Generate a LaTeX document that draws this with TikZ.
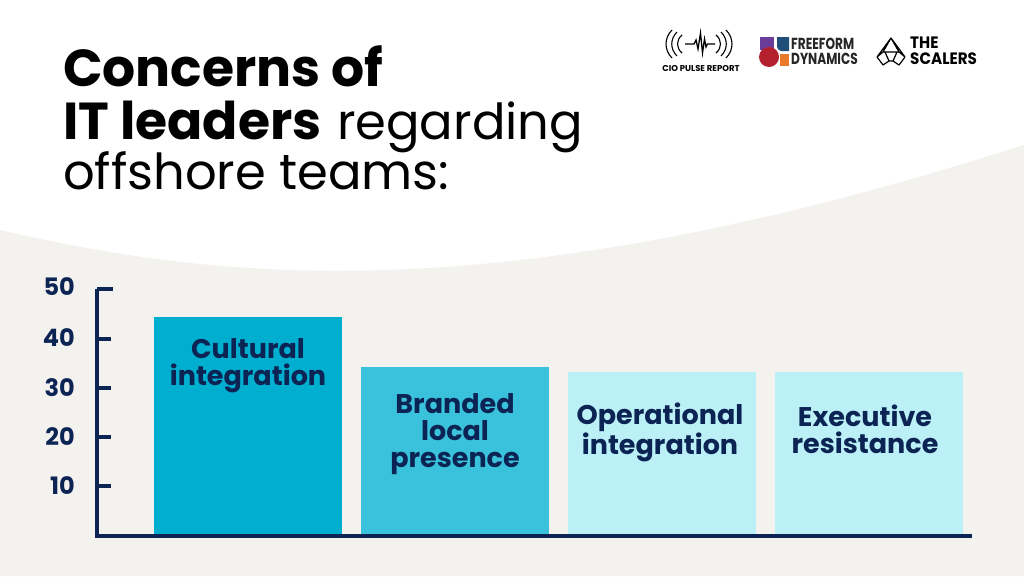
\documentclass[tikz,border=0pt]{standalone}
\usepackage{fontspec}
\setmainfont{Poppins}
\newfontfamily\logocond[FakeStretch=0.76]{Poppins}
\newfontfamily\logoheavy[FakeStretch=0.92]{Poppins}
\usetikzlibrary{positioning}
\definecolor{navy}{HTML}{0B2454}
\definecolor{paper}{HTML}{F4F2EF}
\definecolor{bardark}{HTML}{00AFCF}
\definecolor{barmid}{HTML}{3AC2DC}
\definecolor{barlight}{HTML}{BCF0F7}
\definecolor{ffpurple}{HTML}{6A3E98}
\definecolor{ffblue}{HTML}{1F4E79}
\definecolor{ffred}{HTML}{B5202E}
\definecolor{fforange}{HTML}{E87A2A}
\tikzset{
    x=1pt, y=-1pt,
    titlen/.style = {anchor=base west,inner sep=0pt,font=\fontsize{49.6}{50}\selectfont,text=black},
    titleb/.style = {anchor=base west,inner sep=0pt,font=\fontsize{52}{52}\selectfont\bfseries,text=black},
    ticklab/.style = {anchor=east,inner sep=0pt,font=\fontsize{24}{24}\selectfont\bfseries,text=navy},
    bar/.style = {anchor=north west,inner sep=0pt,minimum width=188pt},
    barlab/.style = {align=center,inner sep=0pt,font=\fontsize{27}{27}\selectfont\bfseries,text=navy},
    axisl/.style = {line width=3.2pt,draw=navy,line cap=butt},
    tickl/.style = {line width=3.2pt,draw=navy},
    logol/.style = {inner sep=0pt,align=left,text=black},
    wave/.style = {black,line width=1.1pt},
}
\begin{document}
\begin{tikzpicture}
\useasboundingbox (0,0) rectangle (1024,576);
%
\fill[white] (0,0) rectangle (1024,576);
\fill[paper] (0,230) .. controls (240,286) and (520,306) .. (1024,145) -- (1024,576) -- (0,576) -- cycle;
%
\node[titleb] at (63,86) (t1) {Concerns of};
\node[titleb] at (63,139) (t2) {IT leaders};
\node[titlen] at (337,139) (t2b) {regarding};
\node[titlen] at (63,189) (t3) {offshore teams:};
%
\node[bar,fill=bardark,minimum height=218pt] at (154,317) (b1) {};
\node[bar,fill=barmid,minimum height=168pt] at (361,367) (b2) {};
\node[bar,fill=barlight,minimum height=163pt] at (568,372) (b3) {};
\node[bar,fill=barlight,minimum height=163pt] at (775,372) (b4) {};
%
\node[barlab] at (248,366) (l1) {Cultural\\integration};
\node[barlab] at (455,434) (l2) {Branded\\local\\presence};
\node[barlab] at (660,432.5) (l3) {Operational\\integration};
\node[barlab] at (865,429) (l4) {Executive\\resistance};
%
\coordinate (o) at (97,536);
\coordinate (top) at (97,289);
\coordinate (xend) at (972,536);
\draw[axisl] (top) -- (o) -- (xend);
\coordinate (t50) at (113,289);
\coordinate (a50) at (97,289);
\coordinate (t40) at (111,339);
\coordinate (a40) at (97,339);
\coordinate (t30) at (111,388);
\coordinate (a30) at (97,388);
\coordinate (t20) at (111,437);
\coordinate (a20) at (97,437);
\coordinate (t10) at (111,486);
\coordinate (a10) at (97,486);
\draw[tickl] (a50) -- (t50);
\draw[tickl] (a40) -- (t40);
\draw[tickl] (a30) -- (t30);
\draw[tickl] (a20) -- (t20);
\draw[tickl] (a10) -- (t10);
\node[ticklab] at (75,286.5) (n50) {50};
\node[ticklab] at (75,338) (n40) {40};
\node[ticklab] at (75,388) (n30) {30};
\node[ticklab] at (75,436.5) (n20) {20};
\node[ticklab] at (75,486) (n10) {10};
%
\node[logol,font=\fontsize{8.5}{8.5}\selectfont\bfseries] at (701,69) (cio) {CIO PULSE REPORT};
\draw[wave,line width=1.3pt] (685,44) -- (694,44) -- (696,40) -- (698,49) -- (700.5,33) -- (702.5,53) -- (704.5,39) -- (706,47) -- (707.5,44) -- (715,44);
\draw[wave] (672,30) .. controls (664,38) and (664,50) .. (672,58);
\draw[wave] (677,32) .. controls (670,39) and (670,49) .. (677,56);
\draw[wave] (682,35) .. controls (676,40) and (676,48) .. (682,53);
\draw[wave] (726,30) .. controls (734,38) and (734,50) .. (726,58);
\draw[wave] (721,32) .. controls (728,39) and (728,49) .. (721,56);
\draw[wave] (716,35) .. controls (722,40) and (722,48) .. (716,53);
%
\fill[ffpurple] (760,37) rectangle (774,50);
\fill[ffblue] (777,37) -- (789,37) -- (789,51) -- (781,51) .. controls (778,51) and (777,48) .. (777,46) -- cycle;
\fill[ffred] (769,57) circle (10);
\fill[fforange] (780,54) rectangle (789,66);
\node[logol,font=\fontsize{16}{15}\logocond\selectfont\bfseries,text=black!85,anchor=west] at (791,51) (ff) {FREEFORM\\DYNAMICS};
%
\draw[black,line width=1.2pt,line join=round] (891,38) -- (905,57) -- (899,65) -- (893,61) -- (889,61) -- (883,65) -- (877,57) -- cycle (877,57) -- (883,52) -- (899,52) -- (905,57) (883,52) -- (891,38) -- (899,52) (889,61) -- (885,52) (893,61) -- (897,52);
\node[logol,font=\fontsize{16.5}{15.5}\logoheavy\selectfont\bfseries,anchor=west] at (910,51) (sc) {THE\\SCALERS};
\end{tikzpicture}
\end{document}
